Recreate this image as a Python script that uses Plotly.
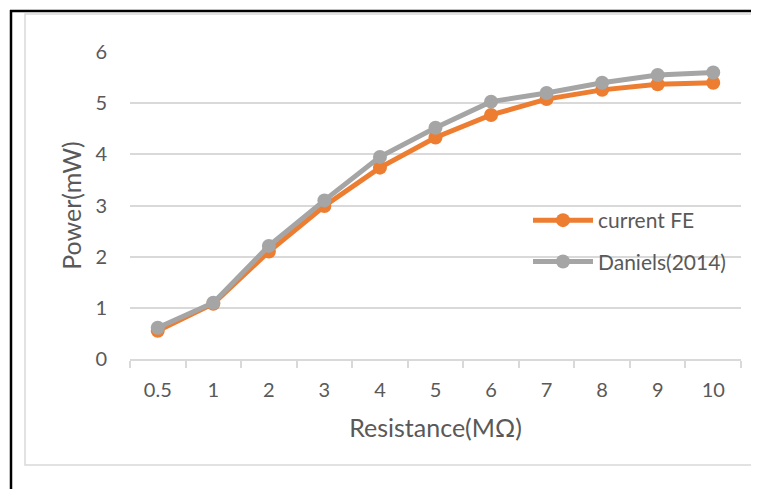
import plotly.graph_objects as go

categories = ["0.5", "1", "2", "3", "4", "5", "6", "7", "8", "9", "10"]
current_fe = [0.55, 1.08, 2.10, 2.99, 3.74, 4.33, 4.77, 5.08, 5.26, 5.37, 5.40]
daniels = [0.61, 1.10, 2.21, 3.10, 3.95, 4.52, 5.03, 5.20, 5.40, 5.55, 5.60]

OFF = 8  # page body offset
W, H = 759 - OFF, 489 - OFF
L, R, T, B = 130, 741, 52, 359  # target plot area in screenshot pixels

def px(x):
    return (x - L) / (R - L)

def py(y):
    return (B - y) / (B - T)

FONT = "Lato, 'Open Sans', sans-serif"
TXT = "#595959"
GRID = "#D9D9D9"

fig = go.Figure()
fig.add_trace(go.Scatter(
    x=categories, y=current_fe, name="current FE", mode="lines+markers", legendgroup="a",
    line=dict(color="#ED7D31", width=5), marker=dict(color="#ED7D31", size=14)))
fig.add_trace(go.Scatter(
    x=categories, y=daniels, name="Daniels(2014)", mode="lines+markers", legendgroup="b",
    line=dict(color="#A5A5A5", width=5), marker=dict(color="#A5A5A5", size=14)))

shapes = [
    dict(type="rect", xref="paper", yref="paper", x0=px(25), x1=px(756), y0=py(465), y1=py(14),
         line=dict(color=GRID, width=1.5), layer="below"),
    dict(type="line", xref="paper", yref="paper", x0=px(10), x1=px(765), y0=py(11), y1=py(11),
         line=dict(color="black", width=2.5)),
    dict(type="line", xref="paper", yref="paper", x0=px(11), x1=px(11), y0=py(10), y1=py(495),
         line=dict(color="black", width=2.5)),
]

fig.update_layout(
    width=W, height=H,
    margin=dict(l=L - OFF, r=759 - R, t=T - OFF, b=489 - B),
    paper_bgcolor="white", plot_bgcolor="white",
    font=dict(family=FONT, color=TXT, size=20),
    shapes=shapes,
    showlegend=True,
    legend=dict(x=px(528), y=py(200), xanchor="left", yanchor="top",
                font=dict(size=21, color=TXT), bgcolor="rgba(0,0,0,0)",
                traceorder="grouped", tracegroupgap=11, itemwidth=60),
    xaxis=dict(type="category", range=[-0.5, len(categories) - 0.5],
               showgrid=False, showline=True, linecolor=GRID, linewidth=1.5,
               automargin=False,
               ticks="outside", tickson="boundaries", ticklen=7, tickcolor=GRID, tickwidth=1.5,
               ticklabelstandoff=12, tickfont=dict(size=20, color=TXT),
               title=dict(text="Resistance(MΩ)", font=dict(size=25, color=TXT), standoff=20)),
    yaxis=dict(range=[0, 6], dtick=1, showgrid=True, gridcolor=GRID, gridwidth=1.5,
               automargin=False,
               zeroline=False, showline=False, ticks="", ticklabelstandoff=22,
               tickfont=dict(size=20, color=TXT),
               title=dict(text="Power(mW)", font=dict(size=25, color=TXT), standoff=6)),
)

fig.write_html("out.html")
